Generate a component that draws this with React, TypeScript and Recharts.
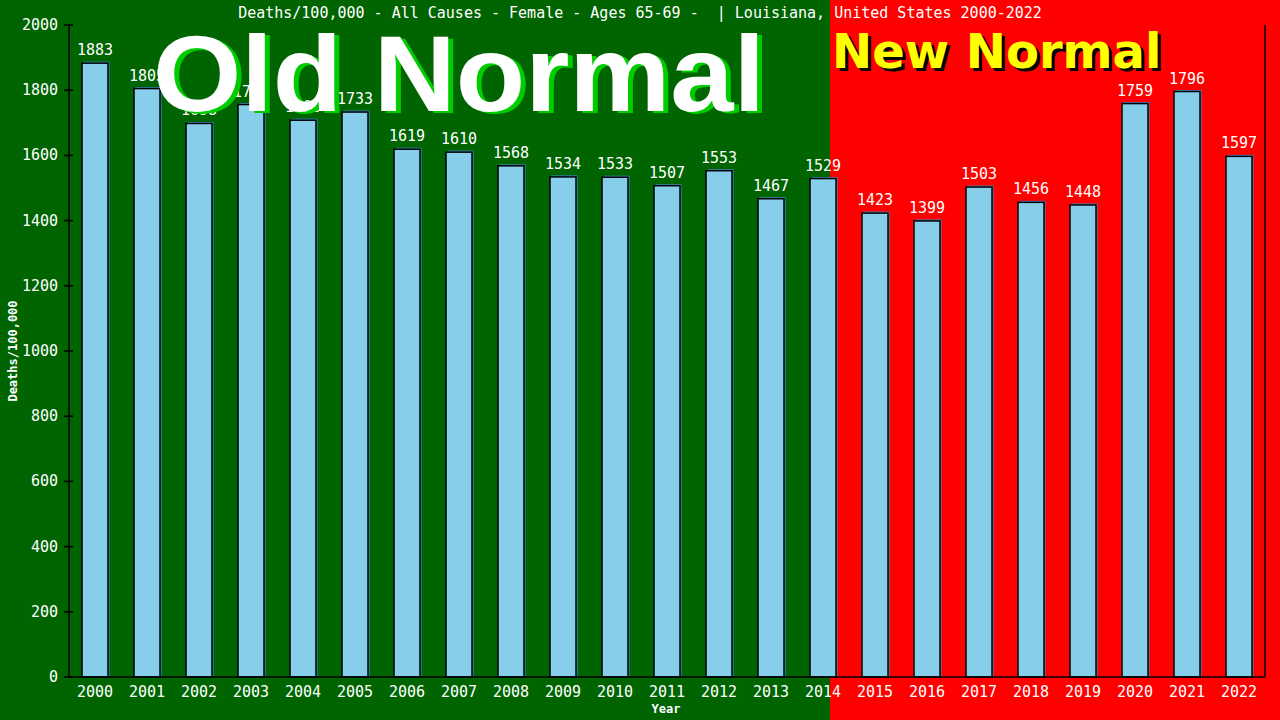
import React from 'react'
import { BarChart, Bar, XAxis, YAxis, LabelList } from 'recharts'

const years = ['2000', '2001', '2002', '2003', '2004', '2005', '2006', '2007', '2008', '2009', '2010', '2011', '2012', '2013', '2014', '2015', '2016', '2017', '2018', '2019', '2020', '2021', '2022']
const deaths = [1883, 1805, 1698, 1756, 1708, 1733, 1619, 1610, 1568, 1534, 1533, 1507, 1553, 1467, 1529, 1423, 1399, 1503, 1456, 1448, 1759, 1796, 1597]
const yTicks = [0, 200, 400, 600, 800, 1000, 1200, 1400, 1600, 1800, 2000]

const data = years.map((year, i) => ({ year, value: deaths[i] }))

const MONO = '"DejaVu Sans Mono", "Liberation Mono", monospace'
const SANS = '"DejaVu Sans", Verdana, sans-serif'
const ARIAL = '"Liberation Sans", Arial, sans-serif'

// bar with a steelblue drop edge on the top/right, like the original
const BarShape = (props: any) => {
  const { x, y, width, height } = props
  return (
    <g>
      <rect x={x + 1.5} y={y - 1.5} width={width} height={height + 1.5} fill="#3f88c5" />
      <rect x={x} y={y} width={width} height={height} fill="#87ceeb" stroke="#000" strokeWidth={1.5} />
    </g>
  )
}

const YTick = (props: any) => {
  const { x, y, payload } = props
  return (
    <g>
      <line x1={x + 6} x2={x + 15} y1={y} y2={y} stroke="#000" strokeWidth={1.5} />
      <text x={x} y={y} dy={5} textAnchor="end" fill="#fff" fontSize={15} fontFamily={MONO}>
        {payload.value}
      </text>
    </g>
  )
}

const XTick = (props: any) => {
  const { x, y, payload } = props
  return (
    <text x={x} y={y} dy={12} textAnchor="middle" fill="#fff" fontSize={15} fontFamily={MONO}>
      {payload.value}
    </text>
  )
}

export default function App() {
  return (
    <div
      style={{
        position: 'absolute',
        left: 0,
        top: 0,
        width: 1280,
        height: 720,
        background: 'linear-gradient(to right, #006400 830px, #ff0000 830px)',
        overflow: 'hidden',
      }}
    >
      <BarChart width={1280} height={720} data={data} margin={{ top: 25, right: 0, bottom: 0, left: 0 }}>
        <XAxis
          dataKey="year"
          height={43}
          tickLine={false}
          axisLine={{ stroke: '#000', strokeWidth: 1.5 }}
          tick={<XTick />}
          interval={0}
        />
        <YAxis
          yAxisId="left"
          width={69}
          domain={[0, 2000]}
          ticks={yTicks}
          tickLine={false}
          tickSize={0}
          tickMargin={11}
          axisLine={{ stroke: '#000', strokeWidth: 1.5 }}
          tick={<YTick />}
        />
        <YAxis
          yAxisId="right"
          orientation="right"
          width={15}
          domain={[0, 2000]}
          tick={false}
          tickLine={false}
          axisLine={{ stroke: '#000', strokeWidth: 1.5 }}
        />
        <Bar yAxisId="left" dataKey="value" barSize={26} shape={<BarShape />} isAnimationActive={false}>
          <LabelList dataKey="value" position="top" offset={8} fill="#fff" fontSize={15} fontFamily={MONO} />
        </Bar>
      </BarChart>

      <svg width={1280} height={720} style={{ position: 'absolute', left: 0, top: 0, pointerEvents: 'none' }}>
        <text x={640} y={18} textAnchor="middle" fill="#fff" fontSize={15} fontFamily={MONO} xmlSpace="preserve">
          Deaths/100,000 - All Causes - Female - Ages 65-69 -  | Louisiana, United States 2000-2022
        </text>
        <text x={158} y={113} fill="#00cc00" fontSize={108} fontWeight="bold" fontFamily={ARIAL} textLength={612} lengthAdjust="spacingAndGlyphs">Old Normal</text>
        <text x={153} y={111} fill="#fff" fontSize={108} fontWeight="bold" fontFamily={ARIAL} textLength={612} lengthAdjust="spacingAndGlyphs">Old Normal</text>
        <text x={835} y={71} fill="#000" fontSize={48} fontWeight="bold" fontFamily={SANS}>New Normal</text>
        <text x={832} y={68} fill="#ffff00" fontSize={48} fontWeight="bold" fontFamily={SANS}>New Normal</text>
        <text x={17} y={351} transform="rotate(-90 17 351)" textAnchor="middle" fill="#fff" fontSize={12} fontWeight="bold" fontFamily={MONO}>
          Deaths/100,000
        </text>
        <text x={666} y={713} textAnchor="middle" fill="#fff" fontSize={12} fontWeight="bold" fontFamily={MONO}>
          Year
        </text>
      </svg>
    </div>
  )
}
